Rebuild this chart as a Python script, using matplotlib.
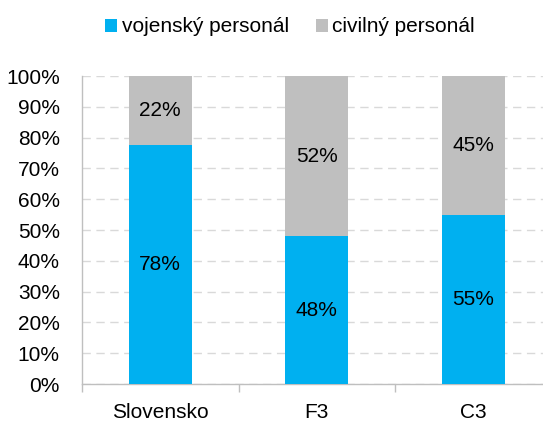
import matplotlib.pyplot as plt
import numpy as np

plt.rcParams['font.family'] = ['Liberation Sans', 'DejaVu Sans']

categories = ['Slovensko', 'F3', 'C3']
vojensky = [77.6, 48.0, 55.0]
civilny = [22.4, 52.0, 45.0]
labels_voj = ['78%', '48%', '55%']
labels_civ = ['22%', '52%', '45%']

blue = '#00B0F0'
gray = '#BFBFBF'
fs = 15

fig = plt.figure(figsize=(5.43, 4.23), dpi=100)
ax = fig.add_axes([82 / 543, 39 / 423, 469.5 / 543, 308 / 423])

x = np.arange(len(categories))
b1 = ax.bar(x, vojensky, width=0.4, color=blue, label='vojenský personál', zorder=3)
b2 = ax.bar(x, civilny, width=0.4, bottom=vojensky, color=gray, label='civilný personál', zorder=3)

# popisky v stlpcoch
for rect, t in zip(b1, labels_voj):
    ax.text(rect.get_x() + rect.get_width() / 2, rect.get_y() + rect.get_height() / 2, t,
            ha='center', va='center', fontsize=fs, color='black', zorder=4)
for rect, t in zip(b2, labels_civ):
    ax.text(rect.get_x() + rect.get_width() / 2, rect.get_y() + rect.get_height() / 2, t,
            ha='center', va='center', fontsize=fs, color='black', zorder=4)

ax.set_xlim(-0.5, 2.5)
ax.set_ylim(0, 100)
ax.set_yticks(np.arange(0, 101, 10))
ax.set_yticklabels([f'{v}%' for v in range(0, 101, 10)], fontsize=fs)
ax.set_xticks(x)
ax.set_xticklabels(categories, fontsize=fs)
ax.set_xticks([-0.5, 0.5, 1.5, 2.5], minor=True)
ax.tick_params(axis='x', which='major', length=0, pad=14)
ax.tick_params(axis='x', which='minor', length=6, color='#BFBFBF', width=1)
ax.tick_params(axis='y', length=0, pad=16)

ax.yaxis.grid(True, color='#D9D9D9', linestyle=(0, (6, 4)), linewidth=1, zorder=0)
for s in ['top', 'right']:
    ax.spines[s].set_visible(False)
for s in ['left', 'bottom']:
    ax.spines[s].set_color('#BFBFBF')
    ax.spines[s].set_linewidth(1)

fig.legend(handles=[b1, b2], loc='center', bbox_to_anchor=(290 / 543, 1 - 27 / 423), ncol=2,
           frameon=False, fontsize=fs, handlelength=0.6, handleheight=0.6,
           handletextpad=0.2, columnspacing=1.3)

fig.savefig('out.png', dpi=100)
